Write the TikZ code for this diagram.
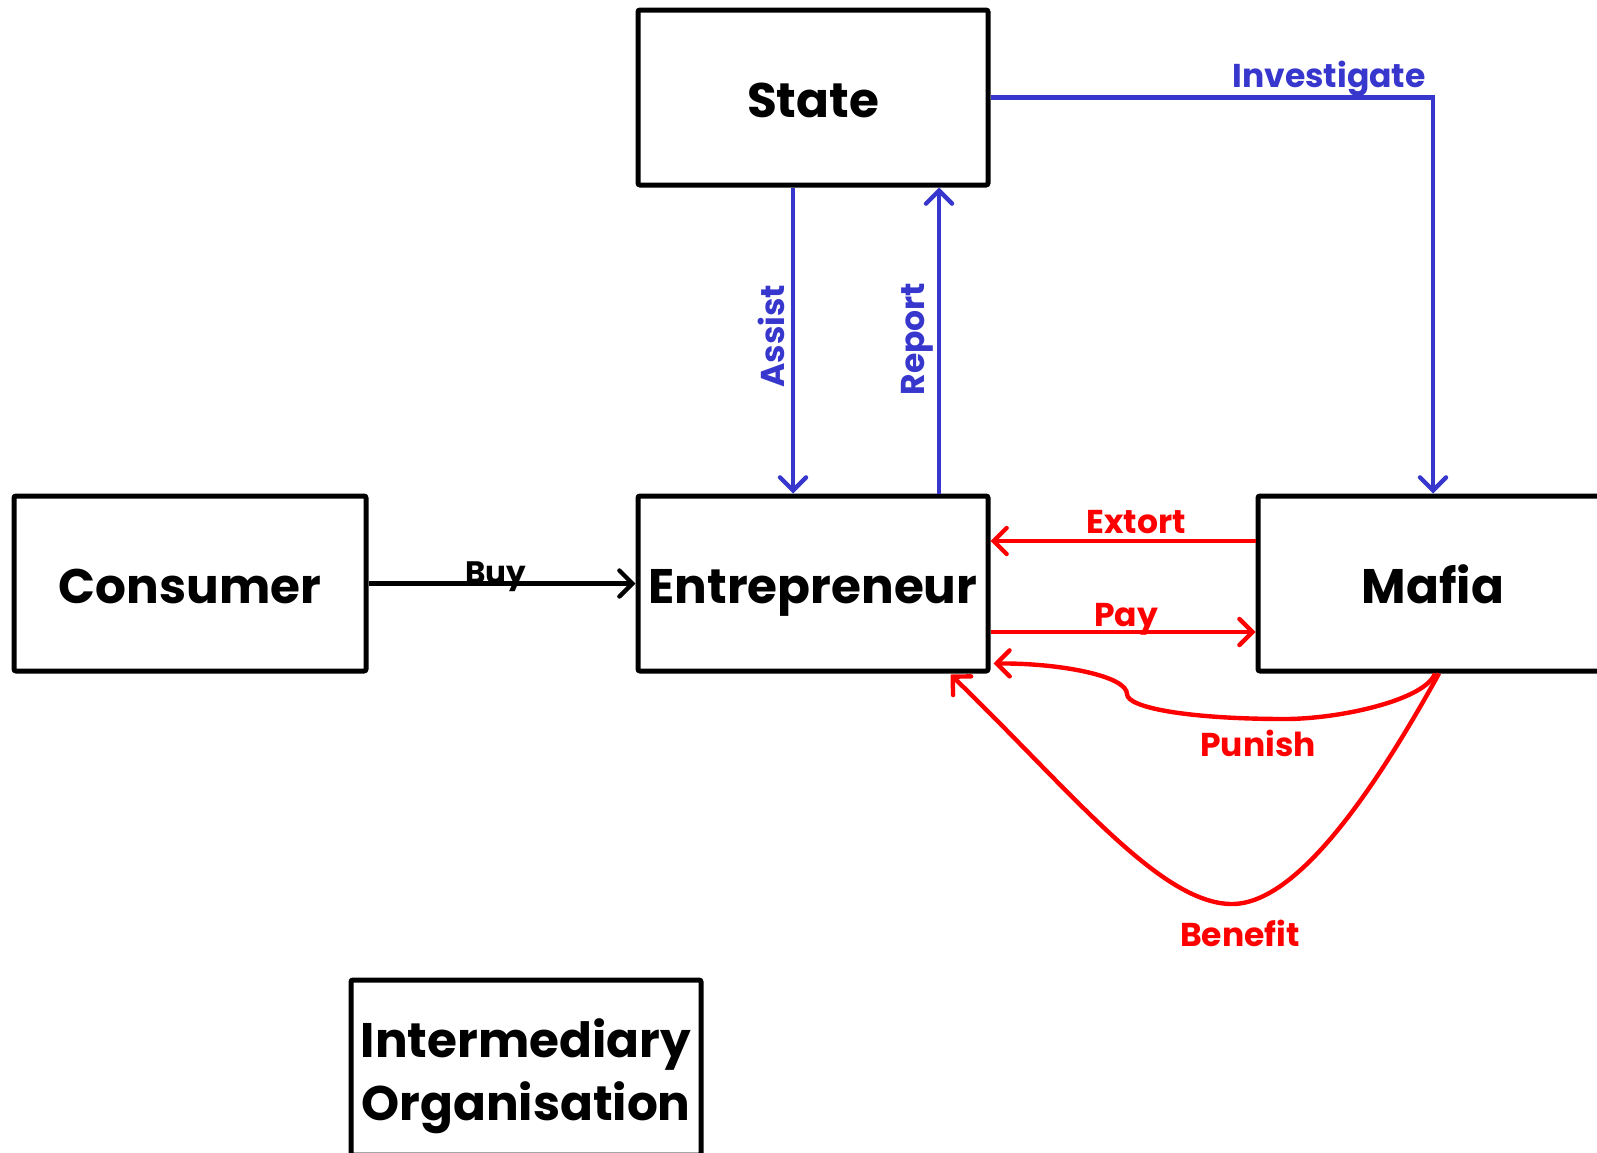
\documentclass[tikz,border=0pt]{standalone}
\usepackage{fontspec}
\setmainfont{Poppins}
\usetikzlibrary{arrows.meta,calc}
\definecolor{myblue}{RGB}{55,55,205}
\definecolor{myred}{RGB}{255,0,0}
\begin{document}
\begin{tikzpicture}[x=1pt,y=-1pt,
  boxfont/.style={font=\fontsize{48.5}{63}\selectfont\bfseries},
  box/.style={draw=black,line width=5pt,rounded corners=2pt,minimum width=350pt,minimum height=175pt,inner sep=0pt,align=center,boxfont,text height=39pt,text depth=0pt},
  conn/.style={line width=4.4pt,-{Straight Barb[length=13pt,width=26pt,line cap=round]}},
  lbl/.style={font=\fontsize{33}{38}\selectfont\bfseries,inner sep=0pt},
  bl/.style={conn,draw=myblue},
  rd/.style={conn,draw=myred}]
\useasboundingbox (0,0) rectangle (1597,1152);
\fill[white] (0,0) rectangle (1597,1152);
\clip (0,0) rectangle (1597,1152);
% boxes
\node[box] (state) at (813,97.5) {State};
\node[box,minimum width=352pt] (cons) at (190,583.5) {Consumer};
\node[box] (ent) at (813,583.5) {Entrepreneur};
\node[box] (mafia) at (1433,583.5) {Mafia};
\node[box] (inter) at (526,1067.5) {};
\node[boxfont,align=center,inner sep=0pt] (intert) at (526,1076) {Intermediary\\Organisation};
% blue connectors
\draw[bl] ([xshift=-20pt]state.south) -- ([xshift=-20pt]ent.north);
\draw[bl] ([xshift=126pt]ent.north) -- ([xshift=126pt]state.south);
\draw[bl] (state.east) -| (mafia.north);
\node[lbl,text=myblue,rotate=90] (assistl) at (771,336) {Assist};
\node[lbl,text=myblue,rotate=90] (reportl) at (917,339) {Report};
\node[lbl,text=myblue,anchor=base] (invl) at (1329,87) {Investigate};
% black connector
\draw[conn,draw=black] (cons.east) -- (ent.west);
\node[lbl,font=\fontsize{31}{36}\selectfont\bfseries,anchor=base] (buyl) at (496,583) {Buy};
% red connectors
\draw[rd] ($(mafia.west)+(0,-42.5)$) -- ($(ent.east)+(0,-42.5)$);
\node[lbl,text=myred,anchor=base] (extl) at (1136,533) {Extort};
\draw[rd] ($(ent.east)+(0,48.5)$) -- ($(mafia.west)+(0,48.5)$);
\node[lbl,text=myred,anchor=base] (payl) at (1126,626) {Pay};
\draw[rd] ([xshift=2pt]mafia.south) .. controls (1425,700) and (1340,719) .. (1285,719)
   .. controls (1190,719) and (1127,708) .. (1127,694)
   .. controls (1127,676) and (1060,663) .. ($(ent.south east)+(3,-10)$);
\node[lbl,text=myred] (punl) at (1258,743) {Punish};
\draw[rd] ([xshift=6pt]mafia.south) .. controls (1380,780) and (1300,904) .. (1232,904)
   .. controls (1160,904) and (1070,790) .. ($(ent.south east)+(-40,1)$);
\node[lbl,text=myred] (benl) at (1240,933) {Benefit};
\end{tikzpicture}
\end{document}
